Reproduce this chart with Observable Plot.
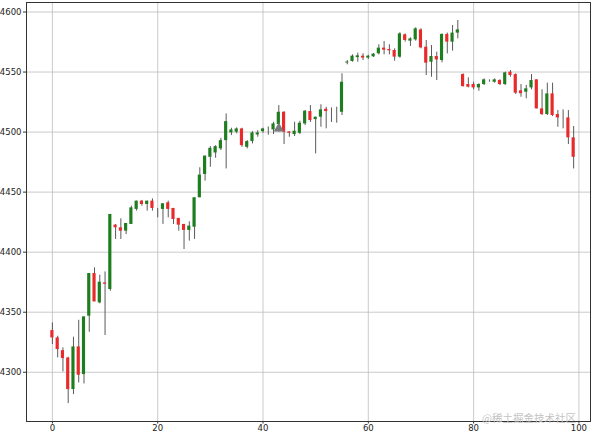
<!DOCTYPE html>
<html><head><meta charset="utf-8">
<script src="https://cdn.jsdelivr.net/npm/d3@7"></script>
<script src="https://cdn.jsdelivr.net/npm/@observablehq/plot@0.6"></script>
<style>
body{margin:0;background:#fff}
#chart{position:relative;width:600px;height:434px;overflow:hidden}
#wm{position:absolute;right:24px;bottom:10px;font:10.5px "Noto Sans CJK SC",sans-serif;color:#c4c4c4;line-height:12px}
</style>
</head><body><div id="chart"></div>
<script>
const opens = [4334.7,4328.6,4318.0,4311.9,4285.6,4321.1,4298.1,4346.7,4382.2,4357.8,
4374.4,4368.9,4422.5,4420.3,4417.5,4423.1,4435.6,4442.5,4439.7,4442.5,
4436.4,4435.6,4441.1,4436.4,4428.1,4423.1,4418.1,4420.8,4445.3,4464.7,
4479.0,4482.6,4486.0,4492.9,4499.3,4499.9,4502.6,4487.3,4492.1,4497.6,
4500.4,4501.0,4501.8,4506.3,4516.5,4500.1,4497.9,4499.0,4506.8,4517.1,
4510.4,4512.4,4519.0,4515.0,4514.0,4516.5,4557.5,4558.8,4562.0,4563.2,
4561.6,4562.7,4565.2,4569.9,4568.8,4567.9,4562.4,4581.0,4575.7,4576.8,
4585.1,4570.7,4558.2,4562.9,4559.6,4581.3,4574.9,4582.4,4547.9,4539.6,
4539.6,4536.8,4539.6,4543.0,4541.5,4543.0,4539.6,4549.9,4547.9,4534.3,
4533.2,4536.8,4543.5,4519.3,4514.6,4531.8,4514.6,4511.0,4511.8,4495.2];
const highs = [4341.1,4330.0,4320.3,4312.5,4329.2,4343.3,4346.1,4382.2,4387.0,4380.8,
4383.6,4431.4,4423.0,4427.8,4423.9,4438.3,4442.5,4443.1,4442.5,4444.4,
4436.4,4440.3,4442.5,4436.4,4428.1,4423.1,4425.3,4445.3,4470.3,4480.0,
4487.9,4488.7,4494.8,4515.1,4503.2,4503.5,4503.2,4492.9,4500.4,4501.2,
4503.2,4504.3,4508.2,4522.1,4517.0,4500.4,4508.2,4509.0,4517.9,4522.1,
4512.4,4522.7,4520.7,4520.1,4520.7,4548.5,4559.6,4564.3,4565.7,4565.2,
4564.0,4565.4,4572.7,4575.4,4572.7,4569.3,4582.7,4581.8,4578.5,4586.8,
4586.0,4576.3,4572.1,4566.5,4581.8,4582.4,4588.7,4592.9,4548.5,4545.2,
4541.5,4540.2,4544.3,4543.5,4544.3,4543.5,4549.9,4551.3,4548.5,4539.6,
4538.8,4547.9,4543.5,4535.2,4540.7,4540.7,4517.9,4518.5,4517.9,4504.6];
const lows = [4323.1,4312.0,4300.3,4273.9,4281.4,4291.1,4290.3,4333.3,4358.6,4357.0,
4330.6,4367.5,4410.6,4410.6,4414.7,4423.1,4434.2,4438.3,4434.2,4434.2,
4428.6,4423.1,4428.6,4423.1,4417.5,4402.2,4409.2,4410.6,4445.3,4459.2,
4470.7,4478.2,4484.6,4469.3,4497.1,4498.5,4487.3,4486.0,4490.1,4495.7,
4499.0,4497.4,4497.9,4499.9,4489.6,4495.7,4496.3,4497.9,4505.4,4508.0,
4481.8,4504.0,4502.7,4508.0,4507.4,4513.8,4556.0,4558.2,4558.2,4559.6,
4560.5,4562.1,4564.3,4564.3,4564.3,4559.0,4561.5,4574.9,4571.3,4575.7,
4569.3,4547.1,4545.7,4542.9,4557.7,4565.1,4567.4,4577.6,4537.4,4536.8,
4535.2,4534.0,4538.8,4541.5,4540.7,4538.8,4538.8,4545.7,4531.3,4529.0,
4527.7,4535.2,4519.3,4513.8,4513.8,4512.9,4504.0,4502.7,4489.6,4469.3];
const closes = [4328.6,4318.9,4311.4,4285.6,4321.1,4297.5,4346.1,4382.2,4358.6,4375.0,
4373.3,4431.4,4420.3,4417.5,4423.9,4436.9,4442.5,4439.7,4442.5,4436.4,
4436.4,4440.3,4435.6,4427.2,4422.5,4418.1,4421.7,4445.3,4464.2,4480.0,
4486.5,4487.9,4492.9,4508.7,4501.8,4502.6,4488.7,4492.1,4499.3,4499.3,
4502.6,4501.0,4506.8,4516.5,4499.9,4499.0,4500.7,4507.4,4517.4,4509.6,
4512.4,4518.5,4517.1,4515.0,4514.0,4541.5,4558.3,4563.2,4563.5,4561.6,
4563.2,4564.9,4569.9,4568.2,4567.7,4562.4,4581.8,4576.3,4577.6,4586.0,
4570.1,4557.4,4562.9,4560.1,4581.3,4574.9,4582.4,4585.1,4537.9,4537.4,
4536.8,4539.6,4543.5,4543.0,4543.5,4539.6,4549.3,4547.1,4532.4,4532.0,
4536.0,4542.9,4519.3,4514.6,4531.8,4513.8,4511.8,4511.0,4495.2,4479.0];
const markerIndex = [43];
const markerPrice = [4503];
const xTicks = [0, 20, 40, 60, 80, 100];
const yTicks = [4300, 4350, 4400, 4450, 4500, 4550, 4600];

const candles = opens.map((o, i) => ({i, o, h: highs[i], l: lows[i], c: closes[i]}));
const up = candles.filter(d => d.c > d.o);
const down = candles.filter(d => d.c < d.o);
const markers = markerIndex.map((x, k) => ({x, y: markerPrice[k]}));
const bw = 0.3;

const chart = Plot.plot({
  width: 600, height: 434,
  marginLeft: 26, marginRight: 10, marginTop: 2, marginBottom: 13,
  style: {fontFamily: "DejaVu Sans", fontSize: "8.5px", color: "#222", background: "#fff"},
  x: {domain: [-4.92, 102.2]},
  y: {domain: [4259, 4607.9]},
  marks: [
    Plot.gridX(xTicks, {stroke: "#bcbcbc", strokeOpacity: 1, strokeWidth: 0.8}),
    Plot.gridY(yTicks, {stroke: "#bcbcbc", strokeOpacity: 1, strokeWidth: 0.8}),
    Plot.ruleX(candles, {x: "i", y1: "l", y2: "h", stroke: "#5a5a5a", strokeWidth: 1}),
    Plot.rect(up, {x1: d => d.i - bw, x2: d => d.i + bw, y1: "o", y2: "c", fill: "#1e7d1e"}),
    Plot.rect(down, {x1: d => d.i - bw, x2: d => d.i + bw, y1: "o", y2: "c", fill: "#ea2a2a"}),
    Plot.dot(markers, {x: "x", y: "y", symbol: "triangle", r: 3.8, fill: "#7a7a7a"}),
    Plot.axisX(xTicks, {tickSize: 2.5, tickPadding: 1, label: null, stroke: "#333"}),
    Plot.axisY(yTicks, {tickSize: 3, tickPadding: 2, label: null, tickFormat: d => String(d), stroke: "#333"}),
    Plot.frame({stroke: "#333", strokeWidth: 1})
  ]
});
const holder = document.getElementById("chart");
holder.appendChild(chart);
const wm = document.createElement("div");
wm.id = "wm";
wm.textContent = "@稀土掘金技术社区";
holder.appendChild(wm);
</script>
</body></html>
